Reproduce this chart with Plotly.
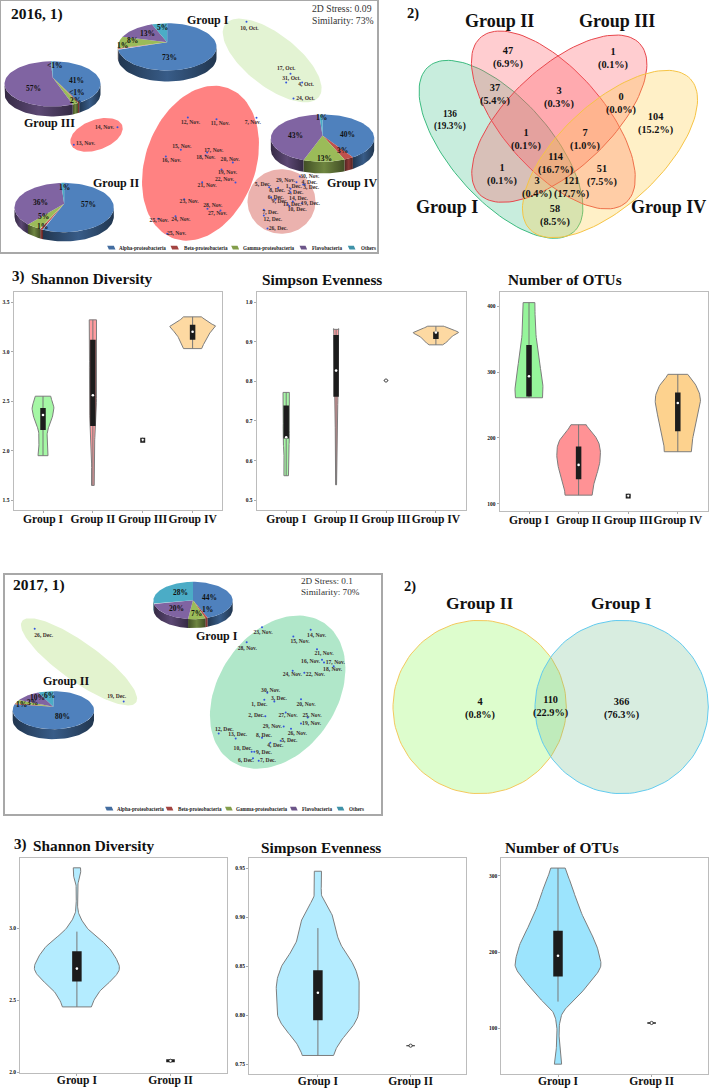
import numpy as np
import plotly.graph_objects as go

W, H = 709, 1089
FONT = "Liberation Serif"
TAXA = ["Alpha-proteobacteria", "Beta-proteobacteria", "Gamma-proteobacteria", "Flavobacteria", "Others"]
TAXA_COL = ["#4F81BD", "#C0504D", "#9BBB59", "#8064A2", "#4BACC6"]
GROUPS_4 = ["Group I", "Group II", "Group III", "Group IV"]
GROUPS_2 = ["Group I", "Group II"]

# ---- community composition (%)
pie16_I = [73, 1, 8, 13, 5]
pie16_II = [57, 1, 5, 36, 1]
pie16_III = [41, 0.5, 2, 57, 0.5]
pie16_IV = [40, 3, 13, 43, 1]
pie17_I = [44, 1, 7, 20, 28]
pie17_II = [80, 1, 3, 10, 6]

# ---- ordination 2016: sample, point x, point y, label x, label y
nmds16_name = ["10, Oct.", "17, Oct.", "31, Oct.", "4, Oct.", "24, Oct.", "14, Nov.", "13, Nov.", "12, Nov.", "11, Nov.", "7, Nov.",
               "15, Nov.", "17, Nov.", "18, Nov.", "20, Nov.", "16, Nov.", "19, Nov.", "22, Nov.", "21, Nov.", "23, Nov.", "28, Nov.",
               "27, Nov.", "25, Nov.", "24, Nov.", "25, Nov.", "30, Nov.", "29, Nov.", "4, Dec.", "5, Dec.", "1, Dec.", "3, Dec.",
               "8, Dec.", "2, Dec.", "6, Dec.", "14, Dec.", "19, Dec.", "9, Dec.", "11, Dec.", "10, Dec.", "7, Dec.", "12, Dec.", "26, Dec."]
nmds16_x = [738, 870, 857, 905, 879, 351, 220, 562, 648, 768, 541, 620, 615, 697, 496, 663, 705, 605, 551, 621,
            660, 473, 525, 500, 898, 888, 908, 806, 870, 912, 833, 870, 812, 877, 904, 825, 862, 867, 790, 790, 801]
nmds16_y = [64, 220, 246, 246, 294, 380, 433, 351, 356, 352, 448, 456, 465, 486, 468, 507, 546, 545, 596, 625,
            630, 655, 647, 700, 528, 545, 552, 560, 565, 553, 562, 575, 590, 603, 608, 597, 612, 617, 628, 645, 684]
label16_x = [747, 857, 873, 917, 915, 312, 255, 570, 659, 757, 544, 640, 616, 689, 513, 681, 672, 620, 566, 637,
             651, 476, 541, 528, 928, 855, 927, 787, 880, 932, 830, 885, 826, 894, 930, 838, 875, 890, 810, 817, 833]
label16_y = [85, 203, 233, 253, 293, 380, 430, 366, 370, 365, 437, 450, 470, 477, 480, 515, 537, 555, 603, 615,
             638, 659, 658, 700, 529, 540, 546, 552, 558, 560, 570, 575, 592, 595, 608, 603, 613, 626, 635, 656, 683]

# ---- ordination 2017
nmds17_name = ["26, Dec.", "19, Dec.", "23, Nov.", "14, Nov.", "15, Nov.", "28, Nov.", "21, Nov.", "16, Nov.", "17, Nov.", "18, Nov.",
               "24, Nov.", "22, Nov.", "30, Nov.", "3, Dec.", "1, Dec.", "20, Nov.", "2, Dec.", "27, Nov.", "25, Nov.", "19, Nov.",
               "29, Nov.", "12, Dec.", "26, Nov.", "13, Dec.", "8, Dec.", "5, Dec.", "4, Dec.", "10, Dec.", "9, Dec.", "6, Dec.", "7, Dec."]
nmds17_x = [104, 371, 786, 932, 880, 740, 951, 966, 972, 1001, 878, 913, 802, 823, 793, 903, 796, 857, 923, 903,
            851, 656, 873, 707, 786, 842, 811, 755, 763, 759, 776]
nmds17_y = [178, 396, 173, 181, 201, 218, 239, 271, 279, 290, 304, 310, 370, 396, 391, 389, 440, 429, 444, 462,
            471, 492, 478, 507, 505, 514, 520, 547, 547, 566, 574]
label17_x = [131, 350, 789, 950, 900, 742, 972, 932, 1006, 998, 877, 946, 812, 837, 778, 918, 769, 864, 936, 935,
             817, 673, 892, 713, 792, 868, 826, 729, 792, 738, 804]
label17_y = [198, 381, 188, 198, 215, 237, 251, 275, 279, 300, 316, 316, 364, 387, 405, 405, 439, 439, 437, 462,
             471, 480, 493, 495, 497, 514, 528, 538, 549, 573, 573]

# ---- Venn counts
venn16_text = ["47<br>(6.9%)", "1<br>(0.1%)", "37<br>(5.4%)", "3<br>(0.3%)", "0<br>(0.0%)", "136<br>(19.3%)", "104<br>(15.2%)",
               "1<br>(0.1%)", "7<br>(1.0%)", "114<br>(16.7%)", "1<br>(0.1%)", "51<br>(7.5%)", "3<br>(0.4%)", "121<br>(17.7%)", "58<br>(8.5%)"]
venn16_x = [445, 760, 405, 598, 783, 270, 887, 497, 675, 587, 427, 725, 532, 635, 585]
venn16_y = [172, 174, 284, 292, 310, 362, 370, 417, 417, 490, 523, 526, 562, 562, 646]
venn17_text = ["4<br>(0.8%)", "110<br>(22.9%)", "366<br>(76.3%)"]
venn17_x = [329, 540, 755]
venn17_y = [415, 410, 415]

# ---- violin outlines: y value, half width (in reference pixels x 2.21)
sh16_y = [[2.55, 2.43, 2.30, 2.20, 2.06, 1.95], [3.32, 3.13, 2.53, 2.26, 2.0, 1.65], [], [3.35, 3.27, 3.25, 3.17, 3.08, 3.03]]
sh16_w = [[17, 24, 18, 10, 9, 11], [8, 7, 8, 6, 3, 3], [], [20, 45, 50, 35, 25, 20]]
sh16_box = [(2.21, 2.36, 2.43), (2.25, 2.56, 3.12), (2.08, 2.11, 2.13), (3.12, 3.20, 3.27)]
si16_y = [[.772, .732, .656, .623, .562], [.931, .917, .761, .69, .623, .539], [], [.939, .932, .923, .913, .90, .892]]
si16_w = [[7, 6, 7, 5, 5], [6, 5, 4, 2, 1.5, 1], [], [18, 32, 50, 35, 25, 15]]
si16_box = [(.656, .659, .739), (.761, .827, .917), (.8015, .802, .8025), (.907, .923, .925)]
ot16_y = [[405.6, 361, 321, 285, 268, 261], [220, 199, 182, 159, 133, 113], [], [296.6, 280, 260, 235, 199, 179]]
ot16_w = [[13, 15, 22, 30, 31, 30], [17, 40, 48, 46, 35, 30], [], [22, 40, 50, 45, 33, 30]]
ot16_box = [(263, 293.6, 341), (137, 159, 187), (108, 112, 115), (210, 253, 269)]

sh17_y = [[3.42, 3.37, 3.30, 3.185, 3.115, 3.05, 2.977, 2.884, 2.80, 2.72, 2.65, 2.56, 2.454], []]
sh17_w = [[8, 8, 2, 1.5, 3, 12, 30, 65, 85, 94, 80, 50, 32], []]
sh17_box = [(2.63, 2.72, 2.84), (2.07, 2.08, 2.09)]
si17_y = [[.947, .936, .923, .913, .899, .879, .865, .851, .834, .817, .80, .787, .773, .759], []]
si17_w = [[8, 8, 8, 18, 35, 45, 60, 80, 92, 92, 90, 75, 50, 35], []]
si17_box = [(.795, .823, .846), (.7685, .769, .7695)]
ot17_y = [[310, 288, 266, 240, 213.5, 192, 178.6, 161, 139, 122, 104, 82.5, 65, 53], []]
ot17_w = [[16, 30, 42, 60, 82, 93, 93, 72, 40, 12, 3, 3, 5, 8], []]
ot17_box = [(168, 195, 228), (106, 107, 108)]

fig = go.Figure()
layout = {}
annos = []
n_ax = [0]


def new_axes(l, t, r, b, xr, yr, visible=False, frame=None, **xk):
    n_ax[0] += 1
    k = n_ax[0]
    xn, yn = ("x", "y") if k == 1 else (f"x{k}", f"y{k}")
    base = dict(showgrid=False, zeroline=False, fixedrange=True, automargin=False)
    xa = dict(base, domain=[l / W, r / W], range=xr, anchor=yn)
    ya = dict(base, domain=[1 - b / H, 1 - t / H], range=yr, anchor=xn)
    if not visible:
        for a in (xa, ya):
            a.update(showticklabels=False, ticks="")
            if frame:
                a.update(showline=True, mirror=True, linecolor=frame, linewidth=1.5)
            else:
                a.update(visible=False)
    suffix = "" if k == 1 else str(k)
    layout["xaxis" + suffix] = xa
    layout["yaxis" + suffix] = ya
    return xn, yn


def poly(ax, xs, ys, fill, line=None, lw=1, **kw):
    fig.add_trace(go.Scatter(x=list(xs), y=list(ys), xaxis=ax[0], yaxis=ax[1], mode="lines", fill="toself", fillcolor=fill,
                             line=dict(color=line or "rgba(0,0,0,0)", width=lw if line else 0), hoverinfo="skip", showlegend=False, **kw))


def ell(cx, cy, a, b, deg, n=120):
    t = np.linspace(0, 2 * np.pi, n)
    th = np.radians(deg)
    return (cx + a * np.cos(t) * np.cos(th) - b * np.sin(t) * np.sin(th),
            cy + a * np.cos(t) * np.sin(th) + b * np.sin(t) * np.cos(th))


def txt(ax, x, y, s, size, bold=True, color="#111", anchor="center"):
    annos.append(dict(xref=ax[0], yref=ax[1], x=x, y=y, text=s, showarrow=False, xanchor=anchor, yanchor="middle",
                      font=dict(family=FONT, size=size, color=color, weight="bold" if bold else "normal"), align="center"))


def ptxt(x, y, s, size, anchor="left"):
    annos.append(dict(xref="paper", yref="paper", x=x / W, y=1 - y / H, text=s, showarrow=False, xanchor=anchor, yanchor="middle",
                      font=dict(family=FONT, size=size, color="#111", weight="bold")))


def shade(hexc, f):
    r, g, b = int(hexc[1:3], 16), int(hexc[3:5], 16), int(hexc[5:7], 16)
    return f"rgb({int(r*f)},{int(g*f)},{int(b*f)})"


def pie(ax, cx, cy, rx, ry, apex, depth, vals, labels, lx, ly):
    v = np.array(vals, float)
    edges = np.concatenate([[0], np.cumsum(v) / v.sum() * 2 * np.pi])
    for i in range(len(v)):
        a0, a1 = max(edges[i], np.pi / 2), min(edges[i + 1], 3 * np.pi / 2)
        if a1 > a0:
            t = np.linspace(a0, a1, 40)
            x, y = cx + rx * np.sin(t), cy - ry * np.cos(t)
            fig.add_trace(go.Scatter(x=np.r_[x, x[::-1]], y=np.r_[y, y[::-1] + depth], xaxis=ax[0], yaxis=ax[1], mode="lines",
                                     fill="toself", line=dict(width=0, color="rgba(0,0,0,0)"), hoverinfo="skip", showlegend=False,
                                     fillgradient=dict(type="horizontal", colorscale=[[0, shade(TAXA_COL[i], .42)], [.5, shade(TAXA_COL[i], .72)], [1, shade(TAXA_COL[i], .42)]])))
    for i in range(len(v)):
        t = np.linspace(edges[i], edges[i + 1], 60)
        poly(ax, np.r_[cx, cx + rx * np.sin(t), cx], np.r_[apex, cy - ry * np.cos(t), apex], TAXA_COL[i])
    for s, x, y in zip(labels, lx, ly):
        txt(ax, x, y, s, 7.5)


def legend(ax, y, icon0, icon1, text0):
    for i, name in enumerate(TAXA):
        a, b = icon0[i], icon1[i]
        poly(ax, [a, b - 5, b, a + 5, a], [y - 6, y - 6, y + 5, y + 5, y - 6], shade(TAXA_COL[i], .85))
        txt(ax, text0[i], y, name, 5.1, color="#222", anchor="left")


def points(ax, names, x, y, lx, ly):
    fig.add_trace(go.Scatter(x=x, y=y, xaxis=ax[0], yaxis=ax[1], mode="markers", marker=dict(size=2, color="#3355dd"),
                             hoverinfo="skip", showlegend=False))
    fig.add_trace(go.Scatter(x=lx, y=ly, xaxis=ax[0], yaxis=ax[1], mode="text", text=names, cliponaxis=False,
                             textfont=dict(family=FONT, size=5.6, color="#3a2a2a", weight="bold"), hoverinfo="skip", showlegend=False))


def rounded_side(ys, ws, steps=10):
    """Catmull-Rom curve through an outline's read points, so corners at the flat ends stay sharp."""
    ys, ws = np.array(ys, float), np.array(ws, float)
    py = np.r_[2 * ys[0] - ys[1], ys, 2 * ys[-1] - ys[-2]]
    pw = np.r_[ws[0], ws, ws[-1]]
    oy, ow = [], []
    for i in range(1, len(py) - 2):
        for u in np.linspace(0, 1, steps, endpoint=False):
            for arr, out in ((py, oy), (pw, ow)):
                a, b, c, d = arr[i - 1:i + 3]
                out.append(.5 * (2 * b + (c - a) * u + (2 * a - 5 * b + 4 * c - d) * u ** 2 + (3 * b - a - 3 * c + d) * u ** 3))
    return np.r_[oy, ys[-1]], np.maximum(np.r_[ow, ws[-1]], .5)


def violin_panel(l, t, r, b, cat_a, cat_b, val_a, py_a, val_b, py_b, ticks, ticktext, cats, profiles, widths, boxes, colors, wscale, boxw, whisk=None, standoff=-3):
    step = (cat_b - cat_a) / (len(cats) - 1)
    xr = [1 + (l - cat_a) / step, 1 + (r - cat_a) / step]
    unit = (val_a - val_b) / (py_b - py_a)
    yr = [val_a - (b - py_a) * unit, val_a + (py_a - t) * unit]
    xn, yn = new_axes(l, t, r, b, xr, yr, visible=True)
    frame = dict(showline=True, mirror=True, linecolor="#bcbcbc", linewidth=1.2, ticks="outside", ticklen=2, tickcolor="#aaa")
    key = "" if n_ax[0] == 1 else str(n_ax[0])
    layout["xaxis" + key].update(frame, tickvals=list(range(1, len(cats) + 1)), ticktext=cats, tickangle=0, ticklabelstandoff=standoff,
                                 tickfont=dict(family=FONT, size=11.6, color="#111", weight="bold"))
    layout["yaxis" + key].update(frame, tickvals=ticks, ticktext=ticktext,
                                 tickfont=dict(family=FONT, size=5.5, color="#111", weight="bold"))
    for i in range(len(cats)):
        pos = i + 1
        ys, ws = profiles[i], widths[i]
        if ys:
            sy, sw = rounded_side(ys, ws)
            w = sw / wscale
            fig.add_trace(go.Scatter(x=np.r_[pos - w, (pos + w)[::-1], pos - w[0]], y=np.r_[sy, sy[::-1], sy[0]], xaxis=xn, yaxis=yn,
                                     mode="lines", fill="toself", fillcolor=colors[i], line=dict(color="#7d7d7d", width=1),
                                     hoverinfo="skip", showlegend=False))
            lo, hi = min(ys), max(ys)
            if whisk and whisk[i]:
                lo, hi = whisk[i]
            fig.add_trace(go.Scatter(x=[pos, pos], y=[lo, hi], xaxis=xn, yaxis=yn, mode="lines", line=dict(color="#777", width=1),
                                     hoverinfo="skip", showlegend=False))
        q1, med, q3 = boxes[i]
        bw = boxw if ys else boxw * .9
        fig.add_trace(go.Scatter(x=[pos, pos], y=[q1, q3], xaxis=xn, yaxis=yn, mode="lines", line=dict(color="#1c1c1c", width=bw),
                                 hoverinfo="skip", showlegend=False))
        mk = dict(size=2.6, color="white") if ys else dict(size=3.2, color="white", line=dict(color="#222", width=.8))
        fig.add_trace(go.Scatter(x=[pos], y=[med], xaxis=xn, yaxis=yn, mode="markers", marker=mk, hoverinfo="skip", showlegend=False))


# ================= 2016 ordination
ax = new_axes(0.5, 0.5, 377, 252, [0, 1129.5], [754.5, 0], frame="#a8a8a8")
poly(ax, *ell(815, 180, 178, 78, 38), "#E3F3D3")
poly(ax, *ell(288, 403, 82, 45, -20), "#FF8585")
poly(ax, *ell(600, 488, 240, 165, -70), "#FF8282")
poly(ax, *ell(843, 603, 102, 97, 0), "#EBB2AE")
points(ax, nmds16_name, nmds16_x, nmds16_y, label16_x, label16_y)
pie(ax, 500, 139, 148, 71, 125, 33, pie16_I, ["73%", "1%", "8%", "13%", "5%"], [507, 365, 395, 440, 485], [170, 135, 120, 98, 82])
pie(ax, 156, 250, 144, 68, 230, 30, pie16_III, ["41%", "<1%", "2%", "57%", "<1%"], [228, 228, 225, 98, 162], [240, 276, 300, 265, 195])
pie(ax, 191, 621, 149, 74, 610, 28, pie16_II, ["57%", "1%", "5%", "36%", "1%"], [265, 127, 128, 120, 192], [613, 677, 648, 607, 562])
pie(ax, 966, 413, 155, 71, 405, 35, pie16_IV, ["40%", "3%", "13%", "43%", "1%"], [1040, 1025, 972, 885, 963], [402, 450, 473, 405, 352])
txt(ax, 623, 57, "Group I", 12)
txt(ax, 148, 368, "Group III", 12)
txt(ax, 345, 548, "Group II", 12)
txt(ax, 1053, 548, "Group IV", 12)
txt(ax, 25, 40, "2016, 1)", 15.5, anchor="left")
txt(ax, 927, 24, "2D Stress: 0.09", 9.7, bold=False, color="#333", anchor="left")
txt(ax, 927, 59, "Similarity: 73%", 9.7, bold=False, color="#333", anchor="left")
legend(ax, 742, [320, 510, 692, 897, 1042], [345, 535, 716, 920, 1065], [350, 543, 722, 927, 1075])

# ================= 2016 Venn
ax = new_axes(360, 0, 709, 260, [0, 1047], [780, 0])
PINK, PINKL = "rgba(255,90,100,.30)", "#E8474C"
poly(ax, *ell(423, 448, 330, 151, 48.6), "rgba(50,190,130,.27)", "#3CBB80", 1)
poly(ax, *ell(580, 360, 330, 151, 48.6), PINK, PINKL, 1)
poly(ax, *ell(598, 356, 330, 152, -43), PINK, PINKL, 1)
poly(ax, *ell(750, 462, 330, 152, -43), "rgba(255,205,70,.30)", "#F6C445", 1)
for s, x, y in zip(venn16_text, venn16_x, venn16_y):
    txt(ax, x, y, s, 10.3 if s[:3] != "136" else 9.3)
txt(ax, 418, 62, "Group II", 18)
txt(ax, 770, 62, "Group III", 18)
txt(ax, 260, 622, "Group I", 18)
txt(ax, 925, 622, "Group IV", 18)
txt(ax, 158, 40, "2)", 14.5)

# ================= 2016 violins
C16 = ["#A5F7A5", "#FF9C9F", "#FFFFFF", "#FDD9A2"]
ptxt(10, 277, "3)", 15)
ptxt(28.5, 278, "Shannon Diversity", 15.3)
ptxt(259.5, 279.7, "Simpson Evenness", 15.3)
ptxt(506.4, 279.7, "Number of OTUs", 15.3)
violin_panel(13.6, 291.7, 222, 510.3, 43, 192.6, 3.5, 302, 1.5, 500.3, [1.5, 2, 2.5, 3, 3.5], ["1.5", "2.0", "2.5", "3.0", "3.5"],
             GROUPS_4, sh16_y, sh16_w, sh16_box, C16, 110, 5.5, standoff=-4)
violin_panel(256.8, 292.3, 466.2, 510.3, 286.2, 435.9, 1.0, 302, .5, 500.3, [.5, .6, .7, .8, .9, 1.0], ["0.5", "0.6", "0.7", "0.8", "0.9", "1.0"],
             GROUPS_4, si16_y, si16_w, si16_box, C16, 110, 5.5, standoff=-4)
violin_panel(499.6, 292.3, 707.6, 511, 529, 677.8, 400, 306.3, 100, 503.7, [100, 200, 300, 400], ["100", "200", "300", "400"],
             GROUPS_4, ot16_y, ot16_w, ot16_box, ["#96F59B", "#FF9295", "#FFFFFF", "#FDD28E"], 110, 5.5, standoff=-4)

# ================= 2017 ordination
ax = new_axes(4.7, 574.5, 381, 814, [14, 1143], [733.5, 15], frame="#a8a8a8")
poly(ax, *ell(237, 277, 210, 58, 35.5), "#E3F3CF")
poly(ax, *ell(833, 368, 250, 178, -56), "#B0E7C9")
points(ax, nmds17_name, nmds17_x, nmds17_y, label17_x, label17_y)
pie(ax, 579, 93, 119, 56, 92, 27, pie17_I, ["44%", "1%", "7%", "20%", "28%"], [628, 622, 590, 530, 540], [85, 120, 133, 117, 68])
pie(ax, 160, 422, 122, 57, 412, 30, pie17_II, ["80%", "1%", "3%", "10%", "6%"], [187, 63, 97, 113, 147], [441, 406, 400, 385, 378])
txt(ax, 650, 200, "Group I", 12)
txt(ax, 197, 335, "Group II", 12)
txt(ax, 34, 48, "2017, 1)", 15.5, anchor="left")
txt(ax, 897, 35, "2D Stress: 0.1", 9.2, bold=False, color="#333", anchor="left")
txt(ax, 897, 68, "Similarity: 70%", 9.2, bold=False, color="#333", anchor="left")
legend(ax, 718, [315, 497, 675, 870, 1010], [340, 520, 698, 893, 1033], [345, 528, 703, 900, 1040])

# ================= 2017 Venn
ax = new_axes(370, 570, 709, 800, [0, 1017], [690, 0])
poly(ax, *ell(329, 411, 260, 260, 0), "rgba(170,250,130,.40)", "#F4C95D", 1)
poly(ax, *ell(755, 411, 260, 260, 0), "rgba(110,190,140,.27)", "#62CBEF", 1)
for s, x, y in zip(venn17_text, venn17_x, venn17_y):
    txt(ax, x, y, s, 10.3)
txt(ax, 329, 100, "Group II", 17.5)
txt(ax, 755, 100, "Group I", 17.5)
txt(ax, 120, 48, "2)", 14.5)

# ================= 2017 violins
ptxt(12, 844, "3)", 15)
ptxt(30.7, 845, "Shannon Diversity", 15.3)
ptxt(259, 847, "Simpson Evenness", 15.3)
ptxt(502.8, 847, "Number of OTUs", 15.3)
violin_panel(20.3, 857.7, 226.5, 1073.3, 76.9, 170.5, 3.0, 928.3, 2.0, 1072.3, [2, 2.5, 3], ["2.0", "2.5", "3.0"],
             GROUPS_2, sh17_y, sh17_w, sh17_box, ["#B4ECFF", "#FFFFFF"], 207, 9.5, whisk=[(2.454, 2.977), None], standoff=-6)
violin_panel(249.1, 858.3, 466.2, 1073.7, 317.9, 410.6, .95, 868.3, .75, 1064.3, [.75, .8, .85, .9, .95], ["0.75", "0.80", "0.85", "0.90", "0.95"],
             GROUPS_2, si17_y, si17_w, si17_box, ["#B4ECFF", "#FFFFFF"], 207, 9.5, whisk=[(.759, .889), None], standoff=-6)
violin_panel(501.4, 858.3, 707.6, 1073.7, 558, 651.6, 300, 875.7, 100, 1028.3, [100, 200, 300], ["100", "200", "300"],
             GROUPS_2, ot17_y, ot17_w, ot17_box, ["#9CE4FD", "#FFFFFF"], 207, 9.5, whisk=[(135, 310), None], standoff=-6)

fig.update_layout(width=W, height=H, margin=dict(l=0, r=0, t=0, b=0), paper_bgcolor="white", plot_bgcolor="rgba(0,0,0,0)",
                  showlegend=False, annotations=annos, **layout)
fig.write_html("out.html", config=dict(displayModeBar=False), post_script="document.body.style.margin='0';")
